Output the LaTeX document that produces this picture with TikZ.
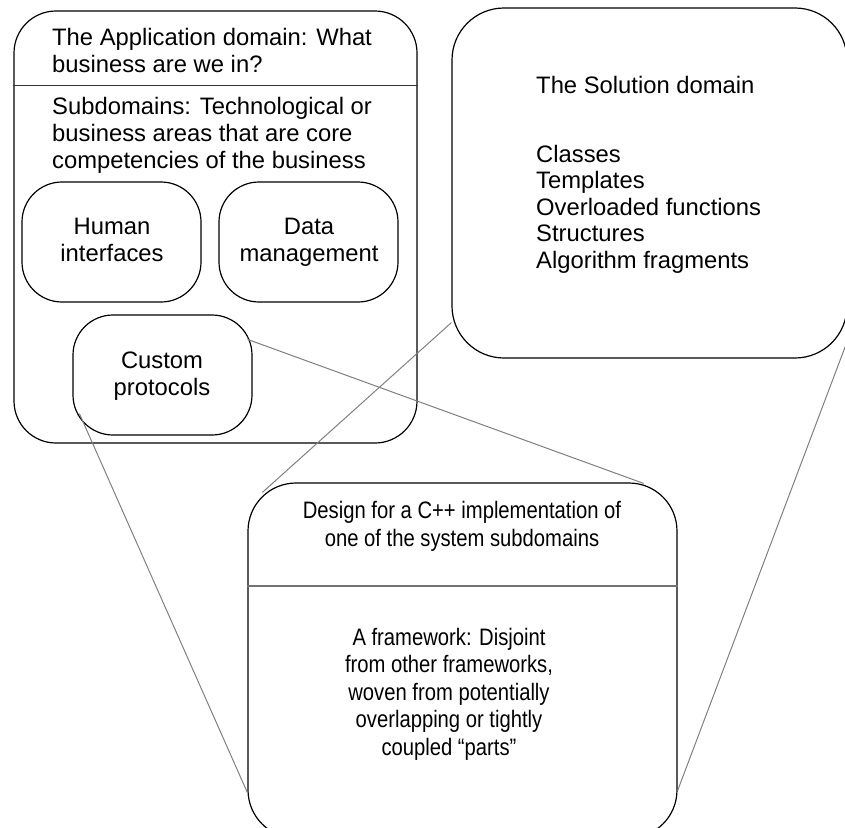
\documentclass[tikz,border=0pt]{standalone}
\usepackage{fontspec}
\setmainfont{Liberation Sans}
\newfontfamily\narrowsans[FakeStretch=0.85]{Liberation Sans}
\usetikzlibrary{calc}
\begin{document}
\begin{tikzpicture}[x=1pt,y=-1pt,
  box/.style={draw=black,line width=1.2pt,rectangle,inner sep=0pt},
  link/.style={draw=black!50,line width=1pt},
  divider/.style={line width=1.6pt},
  big/.style={inner sep=0pt,font=\fontsize{23.8}{27}\selectfont},
  narrow/.style={inner sep=0pt,font=\narrowsans\fontsize{23.8}{27.4}\selectfont},
  % multi-line nodes are placed by the baseline of their last line
  ltxt/.style={big,align=left,anchor=base west},
  ctxt/.style={big,align=center,anchor=base},
  ntxt/.style={narrow,align=center,anchor=base}]
\useasboundingbox (0,0) rectangle (845,827);

% application domain with its subdomains
\node[box,rounded corners=42pt,minimum width=403pt,minimum height=432pt] (app) at (215.5,227) {};
\draw[divider,black!80] ($(app.north west)+(0,75)$) -- ($(app.north east)+(0,75)$);
\node[ltxt] (apptitle) at (52,72) {The Application domain: What\\business are we in?};
\node[ltxt] (subs) at (52,168) {Subdomains: Technological or\\business areas that are core\\competencies of the business};

\node[box,rounded corners=40pt,minimum width=179pt,minimum height=120pt] (hi) at (111.5,242) {};
\node[ctxt] (hitext) at (112,261) {Human\\interfaces};
\node[box,rounded corners=40pt,minimum width=179pt,minimum height=120pt] (dm) at (308.5,242) {};
\node[ctxt] (dmtext) at (309,261) {Data\\management};
\node[box,rounded corners=40pt,minimum width=179pt,minimum height=120pt] (cp) at (162.5,375) {};
\node[ctxt] (cptext) at (162,395) {Custom\\protocols};

% solution domain
\node[box,rounded corners=52pt,minimum width=395pt,minimum height=350pt] (sol) at (649.5,183) {};
\node[ltxt] (soltitle) at (536,93) {The Solution domain};
\node[ltxt,font=\fontsize{23.8}{26.5}\selectfont] (sollist) at (536,268) {Classes\\Templates\\Overloaded functions\\Structures\\Algorithm fragments};

% framework design
\node[box,rounded corners=48pt,minimum width=429pt,minimum height=355pt] (fw) at (462.5,660.5) {};
\draw[divider,black!55,line width=2pt] ($(fw.north west)+(0,104)$) -- ($(fw.north east)+(0,104)$);
\node[ntxt] (fwtitle) at (462,546) {Design for a C++ implementation of\\one of the system subdomains};
\node[ntxt] (fwbody) at (449,755) {A framework: Disjoint\\from other frameworks,\\woven from potentially\\overlapping or tightly\\coupled “parts”};

% projection lines
\draw[link] ($(cp.north east)+(-5,25)$) -- ($(fw.north east)+(-34,1)$);
\draw[link] ($(cp.south west)+(7,-22)$) -- ($(fw.south west)+(0,-46)$);
\draw[link] ($(sol.south west)+(0,-36)$) -- ($(fw.north west)+(15,10)$);
\draw[link] ($(sol.south east)+(-2,-13)$) -- ($(fw.south east)+(0,-48)$);
\end{tikzpicture}
\end{document}
